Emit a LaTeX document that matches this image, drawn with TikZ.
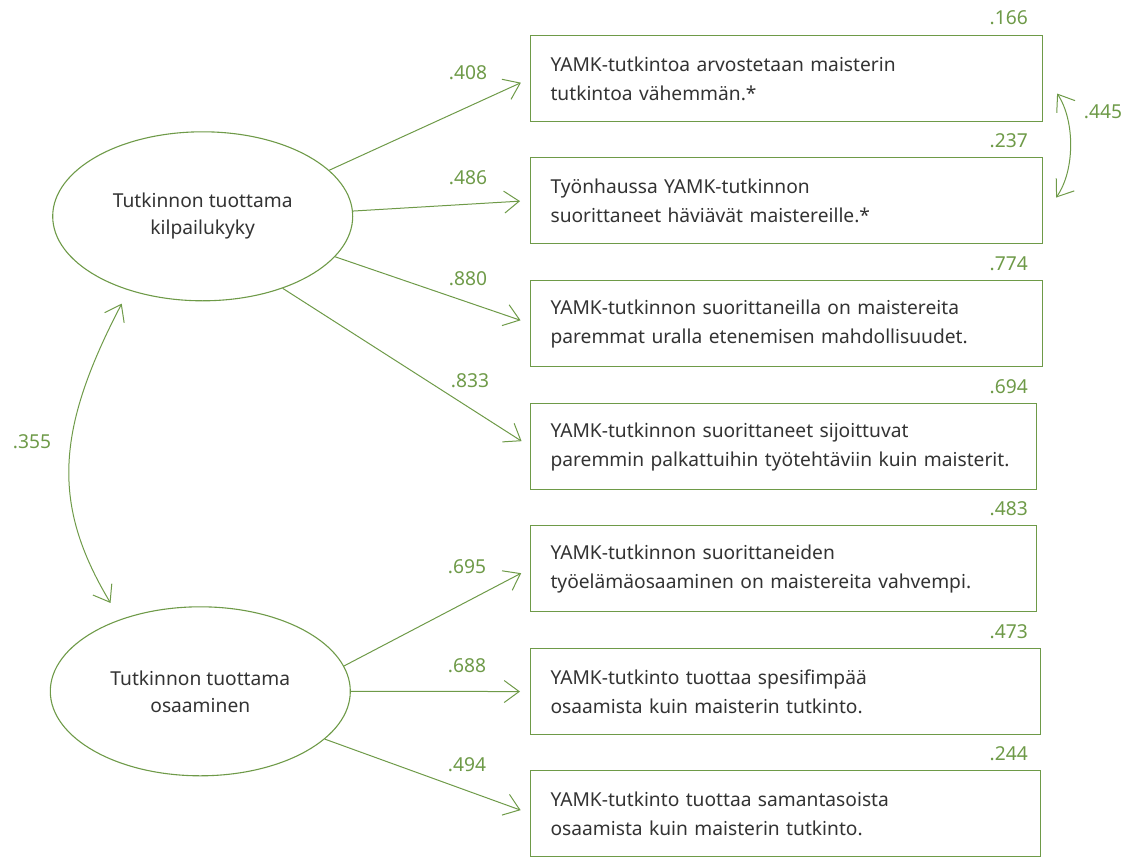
\documentclass[tikz,border=0pt]{standalone}
\usepackage{fontspec}
\setmainfont{Noto Sans}
\usetikzlibrary{shapes.geometric, arrows.meta}

\definecolor{semgreen}{RGB}{110,154,72}
\definecolor{semtext}{RGB}{51,51,51}

\begin{document}
\begin{tikzpicture}[
			x=1pt, y=1pt,
			every node/.style={font=\fontsize{19.2}{29}\selectfont},
			latent/.style={draw=semgreen, line width=1.1pt, ellipse, minimum width=300pt, minimum height=169pt, inner sep=0pt, align=center, text=semtext, font=\fontsize{19.2}{27}\selectfont},
			item/.style={draw=semgreen, line width=1.1pt, rectangle, anchor=north west, minimum height=86pt, inner xsep=20pt, align=left, text=semtext, text width=#1},
			coef/.style={text=semgreen, inner sep=0pt},
			resid/.style={text=semgreen, inner sep=0pt, anchor=base east},
			load/.style={-{Straight Barb[length=15pt,width=22pt]}, draw=semgreen, line width=1pt, shorten >=10pt},
			cov/.style={{Straight Barb[length=15pt,width=22pt]}-{Straight Barb[length=15pt,width=22pt]}, draw=semgreen, line width=1pt}
			]
			\useasboundingbox (0,0) rectangle (1126,-856);
			
			\node[latent] (kilp) at (202.7,-216.3) {Tutkinnon tuottama\\kilpailukyky};
			\node[latent] (osaa) at (200.3,-691.3) {Tutkinnon tuottama\\osaaminen};
			
			\node[item=472pt] (b1) at (530,-35) {YAMK-tutkintoa arvostetaan maisterin\\tutkintoa vähemmän.*};
			\node[item=472pt] (b2) at (530,-157) {Työnhaussa YAMK-tutkinnon\\suorittaneet häviävät maistereille.*};
			\node[item=472pt] (b3) at (530,-280) {YAMK-tutkinnon suorittaneilla on maistereita\\paremmat uralla etenemisen mahdollisuudet.};
			\node[item=466pt] (b4) at (530,-403) {YAMK-tutkinnon suorittaneet sijoittuvat\\paremmin palkattuihin työtehtäviin kuin maisterit.};
			\node[item=466pt] (b5) at (530,-525) {YAMK-tutkinnon suorittaneiden\\työelämäosaaminen on maistereita vahvempi.};
			\node[item=470pt] (b6) at (530,-648) {YAMK-tutkinto tuottaa spesifimpää\\osaamista kuin maisterin tutkinto.};
			\node[item=470pt] (b7) at (530,-770) {YAMK-tutkinto tuottaa samantasoista\\osaamista kuin maisterin tutkinto.};
			
			\node[resid] (r1) at (1028,-25) {.166};
			\node[resid] (r2) at (1028,-147) {.237};
			\node[resid] (r3) at (1028,-270) {.774};
			\node[resid] (r4) at (1028,-393) {.694};
			\node[resid] (r5) at (1028,-515) {.483};
			\node[resid] (r6) at (1028,-638) {.473};
			\node[resid] (r7) at (1028,-760) {.244};
			
			\draw[load] (kilp.20) -- (b1.west);
			\draw[load] (kilp.2) -- (b2.west);
			\draw[load] (kilp.-17) -- (b3.west);
			\draw[load] (kilp.-42) -- (b4.west);
			\draw[load] (osaa.10) -- (b5.west);
			\draw[load] (osaa.0) -- (b6.west);
			\draw[load] (osaa.-21) -- (b7.west);
			
			\node[coef] (l1) at (468,-73) {.408};
			\node[coef] (l2) at (468,-178) {.486};
			\node[coef] (l3) at (468,-279) {.880};
			\node[coef] (l4) at (470,-381) {.833};
			\node[coef] (l5) at (467,-567) {.695};
			\node[coef] (l6) at (467,-666) {.688};
			\node[coef] (l7) at (467,-765) {.494};
			
			% covariances
			\draw[cov, shorten <=15pt, shorten >=19pt] (kilp.225) .. controls +(-73,-140) and +(-69,115) .. (osaa.138);
			\draw[cov] ([xshift=14pt,yshift=-15pt]b1.east) .. controls +(18,-27) and +(19,27) .. ([xshift=13pt,yshift=3pt]b2.east);
			
			\node[coef] (c1) at (32,-442) {.355};
			\node[coef] (c2) at (1103,-112) {.445};
			
			\end{tikzpicture}
\end{document}
